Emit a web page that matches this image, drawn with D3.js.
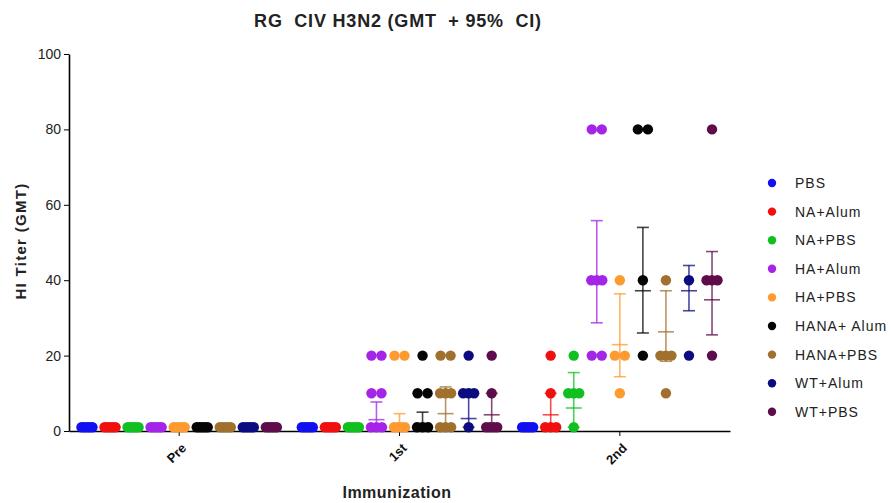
<!DOCTYPE html>
<html>
<head>
<meta charset="utf-8">
<script src="https://cdn.jsdelivr.net/npm/d3@7"></script>
<style>
  body { margin: 0; background: #fff; }
  text { font-family: "Liberation Sans", Arial, sans-serif; }
</style>
</head>
<body>
<div id="chart"></div>
<script>
var categories = ["Pre", "1st", "2nd"];
var groups = ["PBS", "NA+Alum", "NA+PBS", "HA+Alum", "HA+PBS", "HANA+ Alum", "HANA+PBS", "WT+Alum", "WT+PBS"];
var colors = ["#1010f0", "#f01010", "#10c020", "#a424e8", "#ff9a30", "#050505", "#a0702e", "#0c0c80", "#5e0c4c"];
var yTicks = [0, 20, 40, 60, 80, 100];

// individual titers per group (values below detection drawn at 1)
var preTiters = [
  [1, 1, 1, 1, 1], [1, 1, 1, 1, 1], [1, 1, 1, 1, 1], [1, 1, 1, 1, 1], [1, 1, 1, 1, 1],
  [1, 1, 1, 1, 1], [1, 1, 1, 1, 1], [1, 1, 1, 1, 1], [1, 1, 1, 1, 1]
];
var firstTiters = [
  [1, 1, 1, 1, 1], [1, 1, 1, 1, 1], [1, 1, 1, 1, 1],
  [20, 20, 10, 10, 1, 1, 1], [20, 20, 1, 1, 1, 1], [20, 10, 10, 1, 1, 1],
  [20, 20, 10, 10, 10, 1, 1, 1], [20, 10, 10, 10, 1], [20, 10, 1, 1, 1, 1]
];
var secondTiters = [
  [1, 1, 1, 1, 1], [20, 10, 1, 1, 1], [20, 10, 10, 10, 1],
  [80, 80, 40, 40, 40, 20, 20], [40, 20, 20, 10], [80, 80, 40, 20],
  [40, 20, 20, 20, 10], [40, 20], [80, 40, 40, 40, 20]
];

// GMT and 95% CI per group
var preGmt  = [1, 1, 1, 1, 1, 1, 1, 1, 1];
var preLow  = [1, 1, 1, 1, 1, 1, 1, 1, 1];
var preHigh = [1, 1, 1, 1, 1, 1, 1, 1, 1];
var firstGmt  = [1, 1, 1, 3, 1.5, 2, 4.6, 3.3, 4.3];
var firstLow  = [1, 1, 1, 1, 0.8, 1, 1, 1, 1];
var firstHigh = [1, 1, 1, 7.7, 4.6, 5, 11.7, 11, 10];
var secondGmt  = [1, 4.3, 6.1, 40, 22.9, 37.2, 26.3, 37.2, 34.8];
var secondLow  = [1, 1, 1, 28.7, 14.4, 26, 18.5, 31.9, 25.5];
var secondHigh = [1, 10, 15.5, 55.8, 36.4, 54, 37.2, 43.9, 47.6];

var titers = [preTiters, firstTiters, secondTiters];
var gmts = [preGmt, firstGmt, secondGmt];
var lows = [preLow, firstLow, secondLow];
var highs = [preHigh, firstHigh, secondHigh];

var width = 892, height = 503,
    margin = {top: 54, right: 162, bottom: 72, left: 69};

var svg = d3.select("#chart").append("svg")
  .attr("width", width)
  .attr("height", height);

var x0 = d3.scaleBand().domain(categories).range([margin.left, width - margin.right]);
var x1 = d3.scalePoint().domain(groups).range([0, x0.bandwidth()]).padding(0.78);
var y = d3.scaleLinear().domain([0, 100]).range([height - margin.bottom, margin.top]);

// build the dot records, spreading equal values sideways
var rows = [];
categories.forEach(function(c, ci) {
  groups.forEach(function(g, gi) {
    var cx = x0(c) + x1(g);
    var vals = titers[ci][gi];
    var counts = d3.rollup(vals, v => v.length, v => v);
    var seen = new Map();
    vals.forEach(function(v) {
      var k = counts.get(v), i = seen.get(v) || 0;
      seen.set(v, i + 1);
      var spread = k > 1 ? Math.min(10 * (k - 1), 11) : 0;
      var off = k > 1 ? -spread / 2 + i * spread / (k - 1) : 0;
      rows.push({gi: gi, x: cx + off, v: v});
    });
  });
});

var axisG = svg.append("g")
  .attr("transform", `translate(0,${y(0)})`)
  .call(d3.axisBottom(x0).tickSize(5).tickSizeOuter(0).tickFormat(""));
axisG.select(".domain").attr("stroke-width", 1.6);

svg.append("g").selectAll("circle")
  .data(rows)
  .join("circle")
  .attr("cx", d => d.x)
  .attr("cy", d => y(d.v))
  .attr("r", 5.2)
  .attr("fill", d => colors[d.gi]);

// GMT line + 95% CI
categories.forEach(function(c, ci) {
  if (ci === 0) return;
  groups.forEach(function(g, gi) {
    var cx = x0(c) + x1(g);
    var eb = svg.append("g")
      .attr("stroke", colors[gi])
      .attr("stroke-opacity", 0.75)
      .attr("stroke-width", 1.6);
    eb.append("line").attr("x1", cx).attr("x2", cx)
      .attr("y1", y(lows[ci][gi])).attr("y2", y(highs[ci][gi]));
    eb.append("line").attr("x1", cx - 6).attr("x2", cx + 6)
      .attr("y1", y(highs[ci][gi])).attr("y2", y(highs[ci][gi]));
    eb.append("line").attr("x1", cx - 6).attr("x2", cx + 6)
      .attr("y1", y(lows[ci][gi])).attr("y2", y(lows[ci][gi]));
    eb.append("line").attr("x1", cx - 8).attr("x2", cx + 8)
      .attr("y1", y(gmts[ci][gi])).attr("y2", y(gmts[ci][gi]));
  });
});

// X axis labels
axisG.selectAll(".tick").append("text")
  .attr("fill", "#111")
  .attr("transform", "translate(8,18) rotate(-45)")
  .attr("text-anchor", "end")
  .style("font-size", "13px")
  .style("font-weight", "bold")
  .text(d => d);

// Y axis
var yAxis = svg.append("g")
  .attr("transform", `translate(${margin.left},0)`)
  .call(d3.axisLeft(y).tickValues(yTicks).tickSize(5).tickPadding(3).tickSizeOuter(0));
yAxis.select(".domain").attr("stroke-width", 1.6);
yAxis.selectAll("text").style("font-size", "14px").attr("fill", "#222");

svg.append("text")
  .attr("x", 398).attr("y", 27)
  .attr("text-anchor", "middle")
  .style("font-size", "18px")
  .style("font-weight", "bold")
  .style("letter-spacing", "0.8px")
  .style("white-space", "pre")
  .attr("fill", "#222")
  .text("RG  CIV H3N2 (GMT  + 95%  CI)");

svg.append("text")
  .attr("transform", "translate(26,241) rotate(-90)")
  .attr("text-anchor", "middle")
  .style("font-size", "15px")
  .style("font-weight", "bold")
  .style("letter-spacing", "1.3px")
  .attr("fill", "#222")
  .text("HI Titer (GMT)");

svg.append("text")
  .attr("x", 397).attr("y", 498)
  .attr("text-anchor", "middle")
  .style("font-size", "16px")
  .style("font-weight", "bold")
  .style("letter-spacing", "0.5px")
  .attr("fill", "#222")
  .text("Immunization");

// legend
var legend = svg.append("g").selectAll("g")
  .data(groups)
  .join("g")
  .attr("transform", (d, i) => `translate(772,${183 + i * 28.6})`);
legend.append("circle").attr("r", 4.2).attr("fill", (d, i) => colors[i]);
legend.append("text")
  .attr("x", 23).attr("y", 5)
  .style("font-size", "14px")
  .style("letter-spacing", "1px")
  .attr("fill", "#222")
  .text(d => d);
</script>
</body>
</html>
